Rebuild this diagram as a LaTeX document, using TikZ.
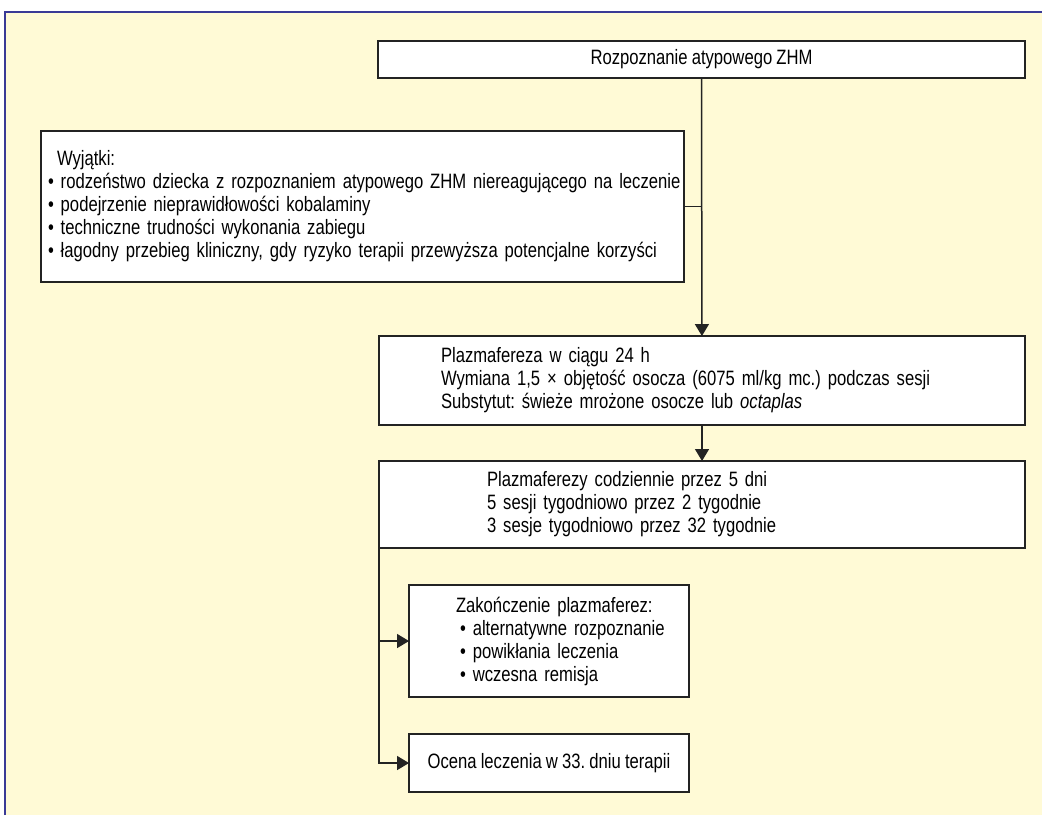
\documentclass[tikz,border=0pt]{standalone}
\usepackage{fontspec}
\setmainfont{Liberation Sans}[FakeStretch=0.8, WordSpace=0.9]
\usetikzlibrary{arrows.meta}
\definecolor{bgyellow}{RGB}{255,250,214}
\definecolor{frameblue}{RGB}{58,58,150}
\definecolor{boxline}{RGB}{35,35,35}

\begin{document}
\begin{tikzpicture}[x=0.5pt,y=-0.5pt,>={Triangle[length=6pt,width=7pt]},font=\fontsize{10.4}{11.5}\selectfont\frenchspacing]
    \tikzstyle{box}=[draw=boxline, fill=white, line width=1pt, inner ysep=0pt, outer sep=0pt]
    \tikzstyle{link}=[draw=boxline, line width=0.75pt]
    \useasboundingbox (0,0) rectangle (1042,815);
    % background and frame
    \fill[bgyellow] (5,12) rectangle (1042,815);
    \draw[frameblue, line width=1pt] (5,815) -- (5,12) -- (1042,12);

    \node[box, minimum width=323.5pt, minimum height=18.5pt] (diag) at (701.5, 59.5) {Rozpoznanie atypowego ZHM};

    \node[box, align=left, text width=314.5pt, inner xsep=3.5pt, minimum height=75.5pt] (exc) at (362.5, 206.5) {\hspace*{4.5pt}Wyjątki:\\
        \mbox{• rodzeństwo dziecka z rozpoznaniem atypowego ZHM niereagującego na leczenie}\\
        • podejrzenie nieprawidłowości kobalaminy\\
        • techniczne trudności wykonania zabiegu\\
        \mbox{• łagodny przebieg kliniczny, gdy ryzyko terapii przewyższa potencjalne korzyści}};

    \node[box, align=left, text width=261pt, inner xsep=31pt, minimum height=44.5pt] (plasma) at (702, 380.5) {Plazmafereza w ciągu 24 h\\
        Wymiana 1,5 × objętość osocza (6075 ml/kg mc.) podczas sesji\\
        Substytut: świeże mrożone osocze lub \textit{octaplas}};

    \node[box, align=left, text width=215pt, inner xsep=54pt, minimum height=43.5pt] (daily) at (702, 504.5) {Plazmaferezy codziennie przez 5 dni\\
        5 sesji tygodniowo przez 2 tygodnie\\
        3 sesje tygodniowo przez 32 tygodnie};

    \node[box, align=left, text width=93pt, inner xsep=23.5pt, minimum height=56pt] (stop) at (549, 641) {\mbox{Zakończenie plazmaferez:}\\
        \mbox{\hspace*{2pt}• alternatywne rozpoznanie}\\
        \hspace*{2pt}• powikłania leczenia\\
        \hspace*{2pt}• wczesna remisja};

    \node[box, minimum width=140pt, minimum height=29pt] (eval) at (549, 763) {Ocena leczenia w 33. dniu terapii};

    \draw[link, ->] (diag) -- (plasma);
    \draw[link] (exc.east) -- (exc.east -| diag.south);
    \draw[link, ->] (plasma) -- (daily);
    \draw[link, ->] (daily.south west) |- (stop.west);
    \draw[link, ->] (daily.south west) |- (eval.west);
\end{tikzpicture}
\end{document}
